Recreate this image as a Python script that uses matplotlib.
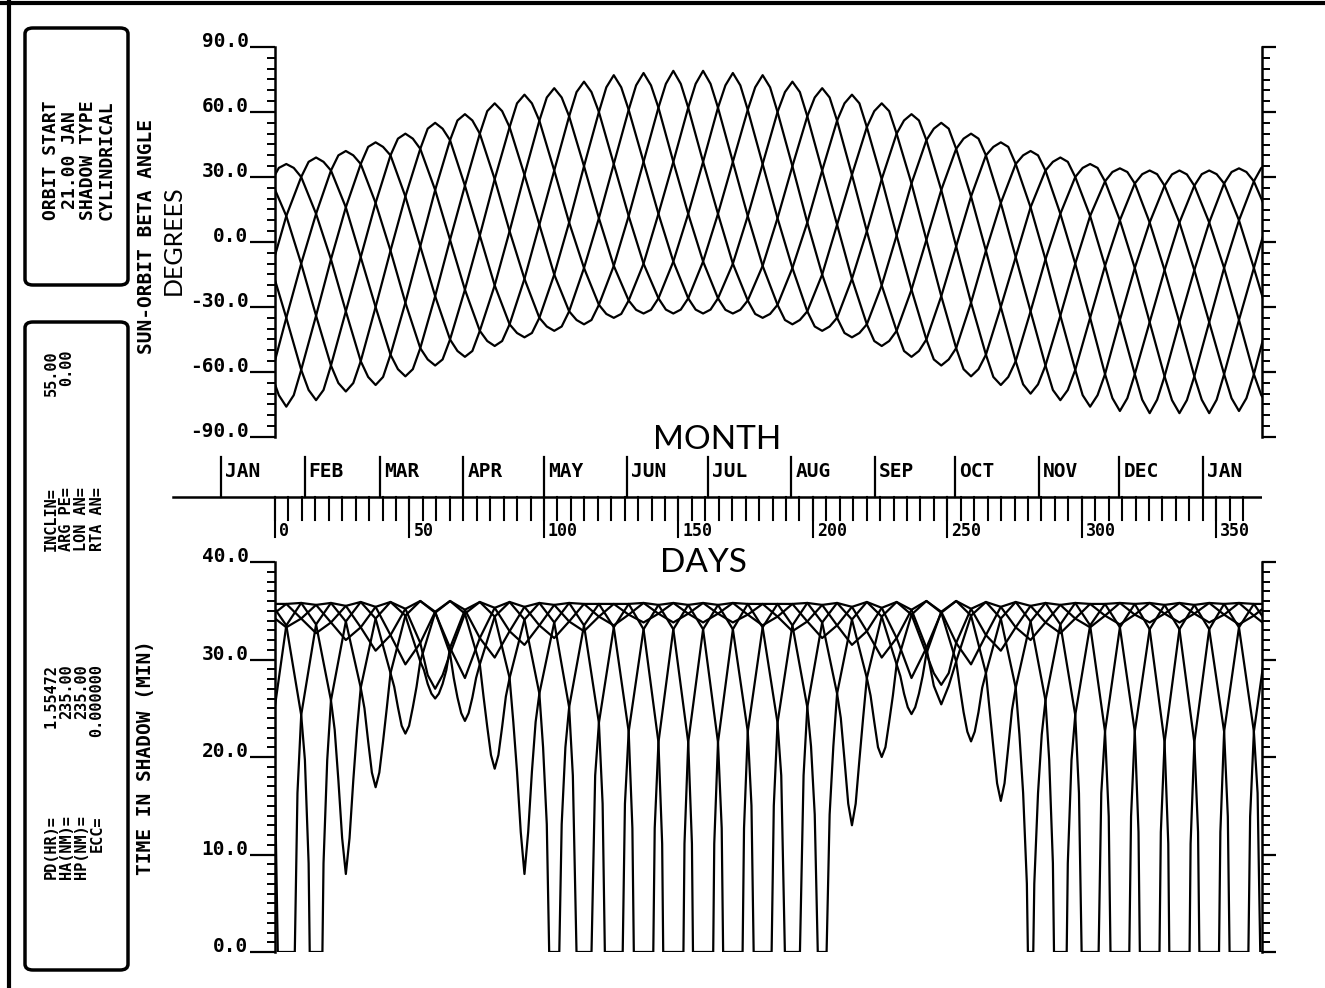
import matplotlib.pyplot as plt
from matplotlib.patches import FancyBboxPatch
from matplotlib.lines import Line2D
from matplotlib.ticker import MultipleLocator

W, H = 1325, 988

# month ruler (day 0 = 21 JAN)
months = ["JAN", "FEB", "MAR", "APR", "MAY", "JUN", "JUL",
          "AUG", "SEP", "OCT", "NOV", "DEC", "JAN"]
month_day = [-20, 11, 39, 70, 100, 131, 161, 192, 223, 253, 284, 314, 345]
day_labels = [0, 50, 100, 150, 200, 250, 300, 350]

beta_ticks = [-90, -60, -30, 0, 30, 60, 90]
shadow_ticks = [0, 10, 20, 30, 40]

# days where the curves were read (lattice crossing columns)
col_days = [-1.34, 4.20, 9.74, 15.27, 20.81, 26.34, 31.88, 37.41, 42.95, 48.48,
            54.02, 59.55, 65.09, 70.62, 76.16, 81.69, 87.23, 92.76, 98.30, 103.83,
            109.37, 114.90, 120.44, 125.97, 131.51, 137.04, 142.58, 148.11, 153.65,
            159.18, 164.72, 170.25, 175.79, 181.32, 186.86, 192.39, 197.93, 203.46,
            209.00, 214.53, 220.07, 225.60, 231.14, 236.67, 242.21, 247.74, 253.28,
            258.81, 264.35, 269.88, 275.42, 280.95, 286.49, 292.02, 297.56, 303.09,
            308.63, 314.16, 319.70, 325.23, 330.77, 336.30, 341.84, 347.37, 352.91,
            358.44, 363.98, 369.51]

# sun-orbit beta angle (deg), six orbits
beta_a = [28, 36, 30, 13, -8, -32, -55, -66, -52, -28, -2, 24, 47, 59, 50, 29, 5,
          -17, -35, -41, -32, -12, 11, 36, 61, 78, 62, 37, 13, -9, -26, -33, -27,
          -11, 11, 35, 58, 71, 56, 31, 5, -20, -41, -53, -45, -25, -2, 21, 40, 46,
          36, 16, -8, -34, -59, -76, -61, -36, -12, 9, 26, 33, 26, 9, -12, -36, -61, -76]
beta_b = [-12, 12, 30, 39, 33, 16, -7, -30, -52, -62, -49, -25, 1, 26, 50, 64, 53,
          31, 8, -15, -32, -38, -29, -11, 12, 37, 62, 79, 62, 37, 13, -10, -27, -35,
          -29, -12, 9, 33, 56, 68, 53, 29, 3, -22, -45, -57, -49, -28, -4, 18, 36,
          42, 33, 13, -10, -35, -61, -78, -61, -37, -13, 9, 26, 33, 27, 10, -12, -35]
beta_c = [-61, -35, -10, 13, 33, 42, 36, 18, -4, -28, -49, -57, -45, -22, 3, 29,
          53, 68, 56, 33, 9, -12, -29, -35, -27, -10, 13, 37, 62, 79, 62, 37, 12,
          -11, -29, -38, -32, -15, 8, 31, 53, 64, 50, 27, 1, -25, -49, -62, -52,
          -30, -7, 16, 33, 39, 30, 12, -11, -36, -61, -79, -62, -37, -13, 9, 27, 34, 28, 12]
beta_d = [-61, -76, -59, -34, -8, 16, 36, 46, 40, 21, -2, -25, -45, -53, -41, -20,
          5, 31, 56, 71, 58, 35, 11, -11, -27, -33, -26, -9, 13, 37, 62, 78, 61, 36,
          11, -12, -32, -41, -35, -17, 5, 29, 50, 59, 47, 24, -2, -28, -52, -66,
          -55, -32, -8, 13, 30, 36, 28, 10, -12, -37, -62, -79, -62, -37, -12, 10, 28, 36]
beta_e = [-12, -35, -59, -73, -57, -32, -7, 18, 40, 50, 43, 24, 1, -22, -41, -48,
          -38, -17, 8, 33, 58, 74, 60, 36, 12, -10, -26, -33, -26, -9, 13, 37, 61,
          77, 60, 35, 9, -15, -35, -44, -38, -20, 3, 27, 47, 55, 43, 21, -4, -30,
          -55, -70, -57, -34, -10, 12, 28, 34, 27, 9, -13, -37, -62, -79, -61, -36, -12, 12]
beta_f = [28, 12, -10, -34, -57, -69, -55, -30, -4, 21, 43, 55, 47, 26, 3, -20,
          -38, -44, -35, -15, 9, 35, 60, 77, 61, 37, 13, -9, -26, -33, -26, -10, 12,
          36, 60, 74, 58, 33, 8, -17, -38, -48, -41, -22, 1, 24, 43, 50, 40, 18, -7,
          -32, -57, -73, -59, -35, -11, 10, 27, 33, 26, 9, -13, -37, -61, -78, -61, -35]

# extra points read near each peak / trough (day, deg)
beta_tip_a = [(1.43, 34.2), (6.97, 34.2), (34.64, -62.3), (40.18, -62.3),
              (67.85, 56.1), (73.39, 56.1), (101.06, -39.0), (106.60, -39.0),
              (134.27, 72.3), (139.81, 72.3), (167.48, -31.3), (173.02, -31.3),
              (200.69, 66.7), (206.23, 66.7), (233.90, -50.3), (239.44, -50.3),
              (267.11, 43.9), (272.65, 43.9), (300.32, -70.7), (305.86, -70.7),
              (333.53, 31.2), (339.07, 31.2), (366.74, -70.7)]
beta_tip_b = [(12.50, 37.0), (18.04, 37.0), (45.71, -58.7), (51.25, -58.7),
              (78.92, 60.4), (84.46, 60.4), (112.13, -36.0), (117.67, -36.0),
              (145.34, 73.0), (150.88, 73.0), (178.55, -33.2), (184.09, -33.2),
              (211.76, 64.0), (217.30, 64.0), (244.97, -54.2), (250.51, -54.2),
              (278.18, 40.0), (283.72, 40.0), (311.39, -72.1), (316.93, -72.1),
              (344.60, 31.3), (350.14, 31.3)]
beta_tip_c = [(23.57, 40.0), (29.11, 40.0), (56.78, -54.2), (62.32, -54.2),
              (89.99, 64.0), (95.53, 64.0), (123.20, -33.2), (128.74, -33.2),
              (156.41, 73.0), (161.95, 73.0), (189.62, -36.0), (195.16, -36.0),
              (222.83, 60.4), (228.37, 60.4), (256.04, -58.7), (261.58, -58.7),
              (289.25, 37.0), (294.79, 37.0), (322.46, -72.8), (328.00, -72.8),
              (355.67, 32.3), (361.21, 32.3)]
beta_tip_d = [(1.43, -70.7), (6.97, -70.7), (34.64, 43.9), (40.18, 43.9),
              (67.85, -50.3), (73.39, -50.3), (101.06, 66.7), (106.60, 66.7),
              (134.27, -31.3), (139.81, -31.3), (167.48, 72.3), (173.02, 72.3),
              (200.69, -39.0), (206.23, -39.0), (233.90, 56.1), (239.44, 56.1),
              (267.11, -62.3), (272.65, -62.3), (300.32, 34.2), (305.86, 34.2),
              (333.53, -73.0), (339.07, -73.0), (366.74, 34.2)]
beta_tip_e = [(12.50, -68.3), (18.04, -68.3), (45.71, 47.7), (51.25, 47.7),
              (78.92, -45.7), (84.46, -45.7), (112.13, 69.2), (117.67, 69.2),
              (145.34, -31.2), (150.88, -31.2), (178.55, 71.4), (184.09, 71.4),
              (211.76, -42.0), (217.30, -42.0), (244.97, 52.3), (250.51, 52.3),
              (278.18, -65.7), (283.72, -65.7), (311.39, 32.3), (316.93, 32.3),
              (344.60, -72.8), (350.14, -72.8)]
beta_tip_f = [(23.57, -65.1), (29.11, -65.1), (56.78, 52.3), (62.32, 52.3),
              (89.99, -42.0), (95.53, -42.0), (123.20, 71.4), (128.74, 71.4),
              (156.41, -31.2), (161.95, -31.2), (189.62, 69.2), (195.16, 69.2),
              (222.83, -45.7), (228.37, -45.7), (256.04, 47.7), (261.58, 47.7),
              (289.25, -68.3), (294.79, -68.3), (322.46, 31.3), (328.00, 31.3),
              (355.67, -72.1), (361.21, -72.1)]

# time in shadow (min) for the same six orbits
shadow_a = [34.5, 33.3, 34.2, 35.6, 35.8, 33.9, 27.1, 16.9, 28.6, 34.5, 36.0, 34.9,
            30.6, 23.7, 29.5, 34.4, 35.9, 35.4, 33.5, 32.2, 33.9, 35.7, 35.7, 33.3,
            22.6, 0, 21.5, 33.1, 35.6, 35.8, 34.7, 33.8, 34.6, 35.7, 35.7, 33.5, 25.1,
            0, 26.5, 34.1, 35.9, 35.3, 32.2, 28.1, 31.2, 34.8, 36.0, 35.2, 32.5, 30.9,
            33.3, 35.5, 35.8, 33.6, 24.3, 0, 22.6, 33.3, 35.7, 35.8, 34.7, 33.8, 34.7,
            35.8, 35.7, 33.3, 22.6, 0]
shadow_b = [35.7, 35.7, 34.2, 32.7, 33.8, 35.5, 35.9, 34.2, 28.6, 22.4, 29.8, 34.8,
            36.0, 34.7, 29.5, 18.8, 28.1, 34.1, 35.8, 35.6, 33.9, 32.9, 34.4, 35.7,
            35.7, 33.1, 21.5, 0, 21.5, 33.1, 35.6, 35.8, 34.6, 33.5, 34.4, 35.7, 35.8,
            33.8, 26.5, 13.0, 28.1, 34.4, 35.9, 35.1, 31.2, 25.4, 29.8, 34.5, 35.9,
            35.4, 33.3, 32.0, 33.8, 35.6, 35.8, 33.5, 22.6, 0, 22.6, 33.1, 35.6, 35.8,
            34.7, 33.8, 34.6, 35.8, 35.7, 33.5]
shadow_c = [22.6, 33.5, 35.8, 35.6, 33.8, 32.0, 33.3, 35.4, 35.9, 34.5, 29.8, 26.0,
            31.2, 35.1, 35.9, 34.4, 28.1, 8.0, 26.5, 33.8, 35.8, 35.7, 34.4, 33.5,
            34.6, 35.8, 35.6, 33.1, 21.5, 0, 21.5, 33.1, 35.7, 35.7, 34.4, 32.9, 33.9,
            35.6, 35.8, 34.1, 28.1, 20.0, 29.5, 34.6, 36.0, 34.8, 29.8, 21.6, 28.6,
            34.2, 35.9, 35.5, 33.8, 32.7, 34.2, 35.7, 35.7, 33.3, 22.6, 0, 21.5, 33.1,
            35.6, 35.8, 34.6, 33.6, 34.5, 35.7]
shadow_d = [22.6, 0, 24.3, 33.6, 35.8, 35.5, 33.3, 30.9, 32.5, 35.2, 36.0, 34.8,
            31.2, 28.1, 32.2, 35.3, 35.9, 34.1, 26.5, 0, 25.1, 33.5, 35.7, 35.7, 34.6,
            33.8, 34.7, 35.8, 35.6, 33.1, 21.5, 0, 22.6, 33.3, 35.7, 35.7, 33.9, 32.2,
            33.5, 35.4, 35.9, 34.4, 29.5, 24.4, 30.6, 34.9, 36.0, 34.5, 28.6, 15.5,
            27.1, 33.9, 35.8, 35.6, 34.2, 33.3, 34.5, 35.8, 35.7, 33.1, 21.5, 0, 21.5,
            33.1, 35.7, 35.8, 34.5, 33.3]
shadow_e = [35.7, 33.5, 24.3, 0, 25.8, 33.9, 35.9, 35.4, 32.5, 29.5, 31.7, 34.9,
            36.0, 35.1, 32.2, 30.2, 32.9, 35.4, 35.8, 33.8, 25.1, 0, 23.5, 33.3, 35.7,
            35.8, 34.7, 33.8, 34.7, 35.8, 35.6, 33.1, 22.6, 0, 23.5, 33.5, 35.8, 35.6,
            33.5, 31.5, 32.9, 35.3, 35.9, 34.6, 30.6, 27.4, 31.7, 35.2, 35.9, 34.2,
            27.1, 0, 25.8, 33.6, 35.8, 35.7, 34.5, 33.6, 34.6, 35.8, 35.6, 33.1, 21.5,
            0, 22.6, 33.3, 35.7, 35.7]
shadow_f = [34.5, 35.7, 35.8, 33.6, 25.8, 8.0, 27.1, 34.2, 35.9, 35.2, 31.7, 27.0,
            30.6, 34.7, 35.9, 35.3, 32.9, 31.5, 33.5, 35.6, 35.8, 33.5, 23.5, 0, 22.6,
            33.1, 35.6, 35.8, 34.7, 33.8, 34.7, 35.8, 35.7, 33.3, 23.5, 0, 25.1, 33.8,
            35.8, 35.4, 32.9, 30.2, 32.2, 35.1, 36.0, 34.9, 31.7, 29.5, 32.5, 35.4,
            35.9, 33.9, 25.8, 0, 24.3, 33.5, 35.7, 35.8, 34.6, 33.8, 34.7, 35.8, 35.6,
            33.1, 22.6, 0, 22.6, 33.5]

# extra points read along the sharp dips (day, min)
dip_a = [(33.26, 25.0), (34.64, 21.6), (36.03, 18.4), (38.79, 18.4), (40.18, 21.6),
         (41.56, 25.0), (66.47, 28.1), (67.85, 26.1), (69.24, 24.5), (72.00, 24.5),
         (73.39, 26.1), (74.77, 28.1), (132.89, 12.7), (133.42, 0), (140.66, 0),
         (141.19, 12.7), (199.31, 21.1), (200.69, 14.1), (201.82, 0), (205.10, 0),
         (206.23, 14.1), (207.61, 21.1), (298.94, 16.3), (299.93, 0), (306.25, 0),
         (307.24, 16.3), (365.36, 16.3), (366.35, 0)]
dip_b = [(44.33, 27.2), (45.71, 25.1), (47.10, 23.2), (49.86, 23.2), (51.25, 25.1),
         (52.63, 27.2), (77.54, 26.2), (78.92, 23.1), (80.31, 20.2), (83.07, 20.2),
         (84.46, 23.1), (85.84, 26.2), (143.96, 11.1), (144.35, 0), (151.87, 0),
         (152.26, 11.1), (210.38, 24.0), (211.76, 19.7), (213.15, 15.2),
         (215.91, 15.2), (217.30, 19.7), (218.68, 24.0), (244.97, 27.3),
         (250.51, 27.3), (310.01, 13.9), (310.66, 0), (317.66, 0), (318.31, 13.9)]
dip_c = [(55.40, 28.9), (56.78, 27.5), (58.17, 26.5), (60.93, 26.5), (62.32, 27.5),
         (63.70, 28.9), (88.61, 23.6), (89.99, 18.5), (91.38, 12.3), (94.14, 12.3),
         (95.53, 18.5), (96.91, 23.6), (155.03, 11.1), (155.42, 0), (162.94, 0),
         (163.33, 11.1), (221.45, 26.3), (222.83, 23.6), (224.22, 21.0),
         (226.98, 21.0), (228.37, 23.6), (229.75, 26.3), (254.66, 27.1),
         (256.04, 24.6), (257.43, 22.6), (260.19, 22.6), (261.58, 24.6),
         (262.96, 27.1), (321.08, 12.3), (321.58, 0), (328.88, 0), (329.38, 12.3)]
dip_d = [(0.05, 16.3), (1.04, 0), (7.36, 0), (8.35, 16.3), (99.68, 21.0),
         (101.06, 13.1), (101.95, 0), (105.71, 0), (106.60, 13.1), (107.98, 21.0),
         (166.10, 12.7), (166.63, 0), (173.87, 0), (174.40, 12.7), (232.52, 28.3),
         (233.90, 26.5), (235.29, 25.1), (238.05, 25.1), (239.44, 26.5),
         (240.82, 28.3), (265.73, 24.8), (267.11, 21.0), (268.50, 17.3),
         (271.26, 17.3), (272.65, 21.0), (274.03, 24.8), (332.15, 11.1),
         (332.53, 0), (340.07, 0), (340.45, 11.1)]
dip_e = [(11.12, 19.7), (12.50, 9.1), (12.91, 0), (17.63, 0), (18.04, 9.1),
         (19.42, 19.7), (110.75, 18.1), (112.11, 0), (117.69, 0), (119.05, 18.1),
         (177.17, 15.0), (177.98, 0), (184.66, 0), (185.47, 15.0), (244.97, 28.6),
         (250.51, 28.6), (276.80, 22.3), (278.18, 16.3), (279.57, 7.0), (279.95, 0),
         (281.95, 0), (282.33, 7.0), (283.72, 16.3), (285.10, 22.3), (343.22, 12.3),
         (343.72, 0), (351.02, 0), (351.52, 12.3)]
dip_f = [(22.19, 22.8), (23.57, 17.6), (24.96, 11.7), (27.72, 11.7), (29.11, 17.6),
         (30.49, 22.8), (56.78, 28.4), (62.32, 28.4), (121.82, 15.2), (122.65, 0),
         (129.29, 0), (130.12, 15.2), (188.24, 18.1), (189.59, 0), (195.19, 0),
         (196.54, 18.1), (287.87, 19.7), (289.25, 9.1), (289.66, 0), (294.38, 0),
         (294.79, 9.1), (296.17, 19.7), (354.29, 13.9), (354.94, 0), (361.94, 0),
         (362.59, 13.9)]

beta_curves = [(beta_a, beta_tip_a), (beta_b, beta_tip_b), (beta_c, beta_tip_c),
               (beta_d, beta_tip_d), (beta_e, beta_tip_e), (beta_f, beta_tip_f)]
shadow_curves = [(shadow_a, dip_a), (shadow_b, dip_b), (shadow_c, dip_c),
                 (shadow_d, dip_d), (shadow_e, dip_e), (shadow_f, dip_f)]

PLOT = "DejaVu Sans Mono"
LABEL = "Lato"

fig = plt.figure(figsize=(W / 100, H / 100), dpi=100)


def px_axes(x0, y0, x1, y1):
    return fig.add_axes([x0 / W, 1 - y1 / H, (x1 - x0) / W, (y1 - y0) / H])


def merged(vals, extra):
    pts = sorted(list(zip(col_days, vals)) + list(extra))
    return [p[0] for p in pts], [p[1] for p in pts]


def style_axes(ax, lo, hi, ticks, minor):
    ax.set_xlim(0, 367)
    ax.set_ylim(lo, hi)
    ax.set_xticks([])
    for s in ("top", "bottom"):
        ax.spines[s].set_visible(False)
    for s in ("left", "right"):
        ax.spines[s].set_linewidth(1.8)
    ax.set_yticks(ticks)
    ax.set_yticklabels(["%.1f" % t for t in ticks])
    ax.yaxis.set_minor_locator(MultipleLocator(minor))
    ax.tick_params(axis="y", which="major", direction="out", length=18,
                   width=1.6, pad=1, labelsize=14)
    ax.tick_params(axis="y", which="minor", direction="out", length=6, width=1.4)
    for lab in ax.get_yticklabels():
        lab.set_fontfamily(PLOT)
        lab.set_fontweight("bold")
        lab.set_va("baseline")
    axr = ax.twinx()
    axr.set_ylim(lo, hi)
    axr.set_yticks(ticks)
    axr.set_yticklabels([])
    axr.yaxis.set_minor_locator(MultipleLocator(minor))
    axr.tick_params(axis="y", which="major", direction="out", length=10, width=1.6)
    axr.tick_params(axis="y", which="minor", direction="out", length=6, width=1.4)
    for s in ("top", "bottom", "left", "right"):
        axr.spines[s].set_visible(False)


ax_top = px_axes(275, 47, 1262, 437)
style_axes(ax_top, -90, 90, beta_ticks, 5)
for vals, extra in beta_curves:
    x, y = merged(vals, extra)
    ax_top.plot(x, y, color="black", lw=1.6)

ax_bot = px_axes(275, 562, 1262, 952)
style_axes(ax_bot, 0, 40, shadow_ticks, 1)
for vals, extra in shadow_curves:
    x, y = merged(vals, extra)
    ax_bot.plot(x, y, color="black", lw=1.6)

# ruler between the plots, y in pixel rows
ruler = px_axes(170, 420, 1262, 560)
ruler.set_xlim(-105 / 2.689, 367)
ruler.set_ylim(560, 420)
ruler.axis("off")
ruler.plot([-38, 367], [497, 497], color="black", lw=1.8)
for d, m in zip(month_day, months):
    ruler.plot([d, d], [497, 457], color="black", lw=1.6)
    ruler.text(d + 1.5, 471, m, ha="left", va="center", family=PLOT,
               weight="bold", size=14)
for d in range(0, 361, 5):
    ruler.plot([d, d], [497, 520], color="black", lw=1.5)
for d in day_labels:
    ruler.plot([d, d], [497, 537], color="black", lw=1.5)
    ruler.text(d + 1.5, 531, str(d), ha="left", va="center", family=PLOT,
               weight="bold", size=12)
ruler.text(164.4, 440, "MONTH", ha="center", va="center", family=LABEL, size=24)
fig.text(703 / W, 1 - 563 / H, "DAYS", ha="center", va="center", family=LABEL, size=24)

# axis titles
fig.text(146 / W, 1 - 236 / H, "SUN-ORBIT BETA ANGLE", rotation=90, ha="center",
         va="center", family=PLOT, weight="bold", size=14)
fig.text(173 / W, 1 - 240 / H, "DEGREES", rotation=90, ha="center", va="center",
         family=LABEL, size=18)
fig.text(146 / W, 1 - 757 / H, "TIME IN SHADOW (MIN)", rotation=90, ha="center",
         va="center", family=PLOT, weight="bold", size=14)

# page frame
fig.add_artist(Line2D([0, 1], [1 - 3 / H] * 2, transform=fig.transFigure,
                      color="black", lw=3))
fig.add_artist(Line2D([9 / W] * 2, [0, 1], transform=fig.transFigure,
                      color="black", lw=3))

# parameter boxes
for y0, y1 in [(28, 285), (322, 970)]:
    fig.add_artist(FancyBboxPatch((25 / W, 1 - y1 / H), 103 / W, (y1 - y0) / H,
                                  boxstyle="round,pad=0,rounding_size=0.006",
                                  transform=fig.transFigure, fill=False,
                                  lw=2.5, ec="black"))

box_font = dict(rotation=90, ha="center", family=PLOT, weight="bold")

fig.text(79 / W, 1 - 160 / H, "ORBIT START\n21.00 JAN\nSHADOW TYPE\nCYLINDRICAL",
         va="center", multialignment="center", size=13, linespacing=1.05, **box_font)

fig.text(74 / W, 1 - 487 / H, "INCLIN=\nARG PE=\nLON AN=\nRTA AN=",
         va="top", multialignment="right", size=11, linespacing=1.03, **box_font)
fig.text(74 / W, 1 - 350 / H, "55.00\n0.00\n\n",
         va="top", multialignment="right", size=11, linespacing=1.03, **box_font)

fig.text(74 / W, 1 - 815 / H, "PD(HR)=\nHA(NM)=\nHP(NM)=\nECC=",
         va="top", multialignment="right", size=11, linespacing=1.03, **box_font)
fig.text(74 / W, 1 - 664 / H, "1.55472\n235.00\n235.00\n0.000000",
         va="top", multialignment="right", size=11, linespacing=1.03, **box_font)

fig.savefig("out.png", dpi=100)
